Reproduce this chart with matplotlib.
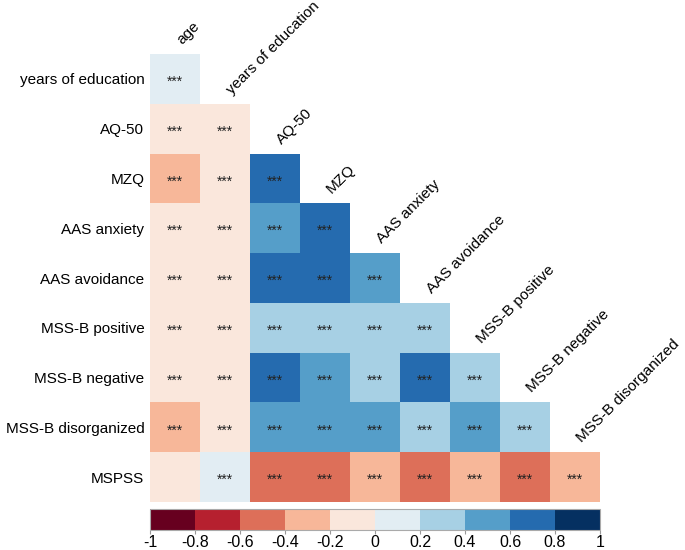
import numpy as np
import matplotlib
matplotlib.use("Agg")
import matplotlib.pyplot as plt
from matplotlib.colors import BoundaryNorm

plt.rcParams['font.family'] = ['Liberation Sans', 'DejaVu Sans']

variables = ["age", "years of education", "AQ-50", "MZQ", "AAS anxiety",
             "AAS avoidance", "MSS-B positive", "MSS-B negative",
             "MSS-B disorganized", "MSPSS"]

# lower triangle, row i holds correlations with variables 0..i-1
corr_rows = [
    [0.1],
    [-0.1, -0.1],
    [-0.3, -0.1, 0.7],
    [-0.1, -0.1, 0.5, 0.7],
    [-0.1, -0.1, 0.7, 0.7, 0.5],
    [-0.1, -0.1, 0.3, 0.3, 0.3, 0.3],
    [-0.1, -0.1, 0.7, 0.5, 0.3, 0.7, 0.3],
    [-0.3, -0.1, 0.5, 0.5, 0.5, 0.3, 0.5, 0.3],
    [-0.1, 0.1, -0.5, -0.5, -0.3, -0.5, -0.3, -0.5, -0.3],
]
sig_rows = [
    ["***"],
    ["***", "***"],
    ["***", "***", "***"],
    ["***", "***", "***", "***"],
    ["***", "***", "***", "***", "***"],
    ["***", "***", "***", "***", "***", "***"],
    ["***", "***", "***", "***", "***", "***", "***"],
    ["***", "***", "***", "***", "***", "***", "***", "***"],
    ["", "***", "***", "***", "***", "***", "***", "***", "***"],
]

n = len(corr_rows)
mat = np.full((n, n), np.nan)
for i, row in enumerate(corr_rows):
    mat[i, :len(row)] = row
mat = np.ma.masked_invalid(mat)

bounds = np.linspace(-1, 1, 11)
cmap = plt.get_cmap("RdBu", 10)
norm = BoundaryNorm(bounds, cmap.N)

fig = plt.figure(figsize=(6.85, 5.5), dpi=100)
ax = fig.add_axes([150 / 685, 48 / 550, 450 / 685, 448 / 550])
mesh = ax.pcolormesh(np.arange(n + 1), np.arange(n + 1), mat, cmap=cmap, norm=norm)
ax.set_xlim(0, n)
ax.set_ylim(n, 0)

for i, row in enumerate(sig_rows):
    for j, s in enumerate(row):
        if s:
            ax.text(j + 0.5, i + 0.56, s, ha="center", va="center", fontsize=10, color="#222222")

ax.set_yticks(np.arange(n) + 0.5)
ax.set_yticklabels(variables[1:], fontsize=11)
ax.set_xticks([])
ax.tick_params(axis="y", length=0, pad=4)
for sp in ax.spines.values():
    sp.set_visible(False)

# diagonal column labels above the top cell of each column
for j in range(n):
    ax.text(j + 0.68, j - 0.14, variables[j], rotation=45, rotation_mode="anchor",
            ha="left", va="bottom", fontsize=11, clip_on=False)

cax = fig.add_axes([150 / 685, 20 / 550, 450 / 685, 21 / 550])
cb = fig.colorbar(mesh, cax=cax, orientation="horizontal", ticks=bounds)
cb.ax.set_xticklabels(["-1", "-0.8", "-0.6", "-0.4", "-0.2", "0", "0.2", "0.4", "0.6", "0.8", "1"],
                      fontsize=11.5)
cb.ax.tick_params(length=3, color="#999999", pad=0.5)
cb.outline.set_edgecolor("#aaaaaa")
cb.outline.set_linewidth(0.8)

fig.savefig("out.png", dpi=100)
